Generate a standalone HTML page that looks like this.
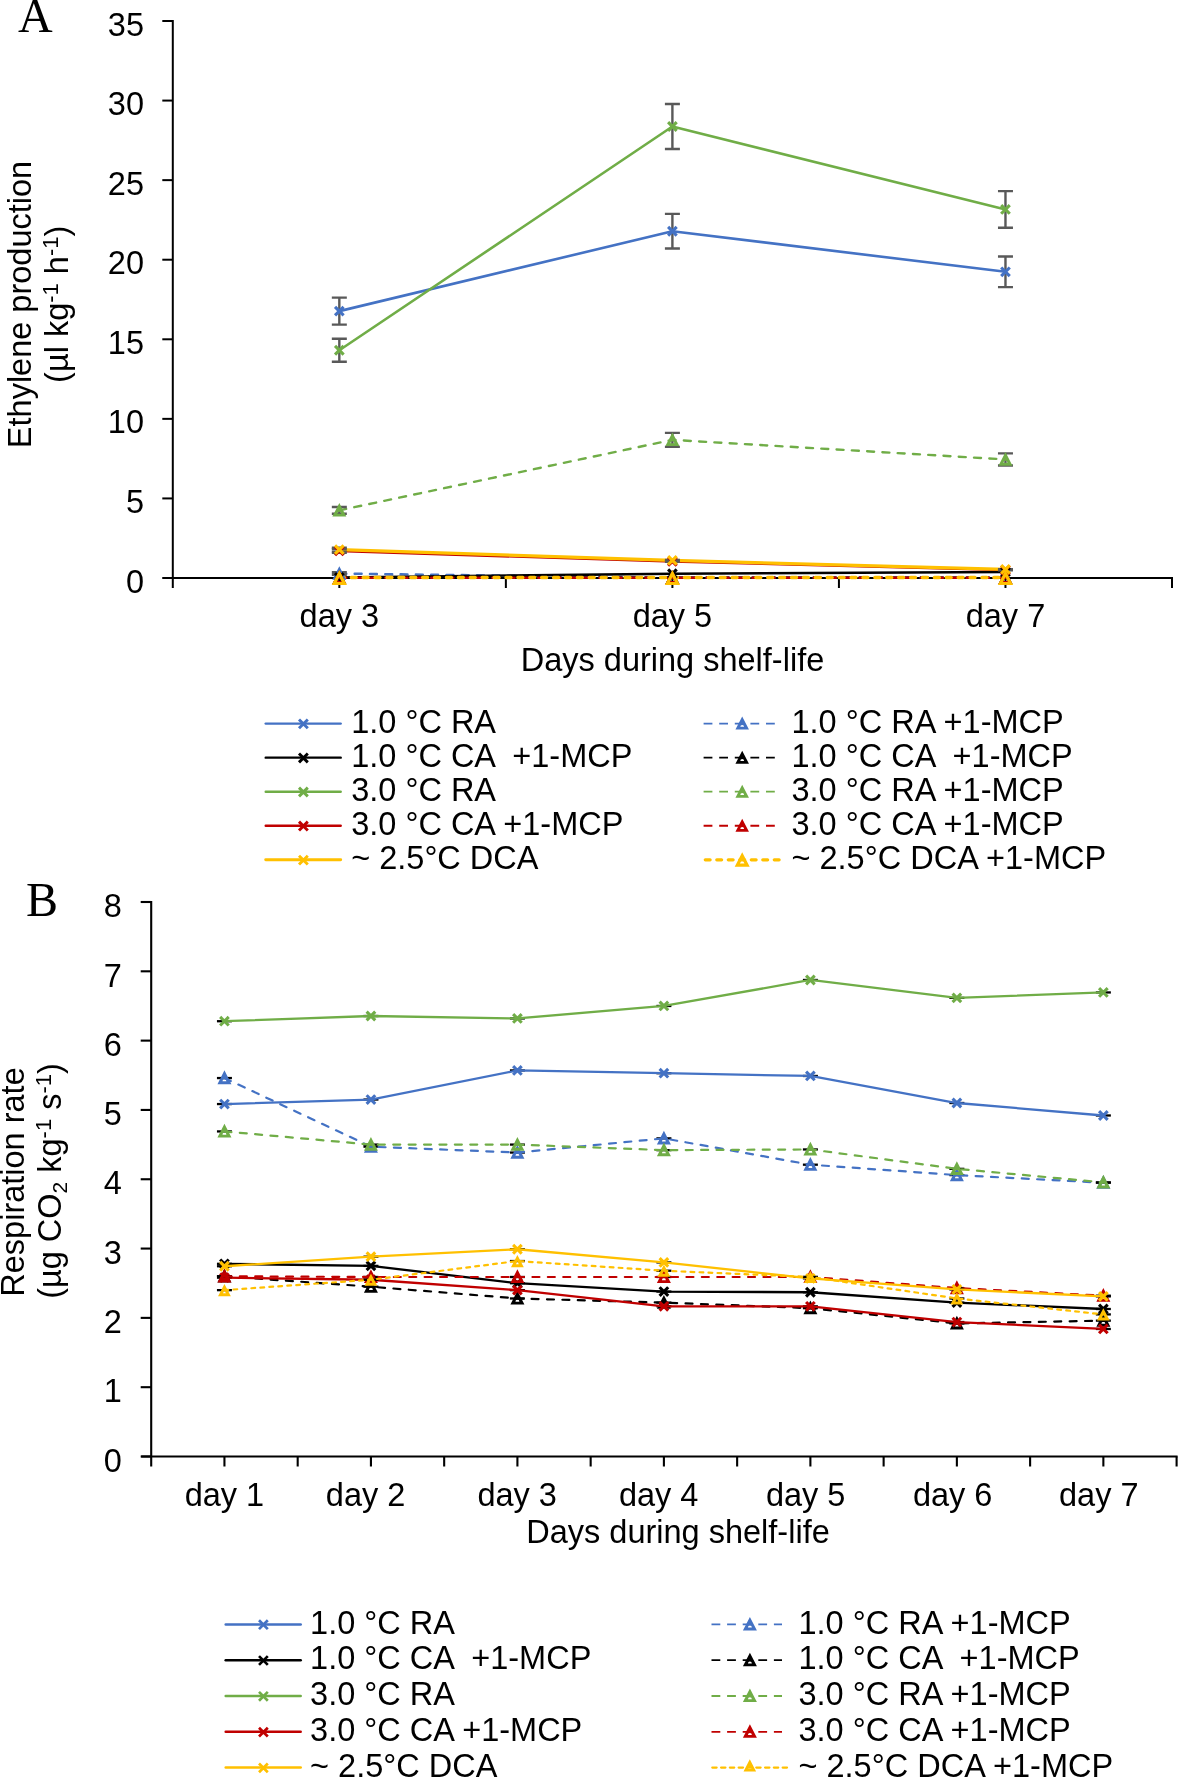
<!DOCTYPE html>
<html><head><meta charset="utf-8"><title>Ethylene production and respiration rate</title>
<style>html,body{margin:0;padding:0;background:#fff;}svg{display:block;will-change:transform;}</style>
</head><body>
<svg width="1179" height="1777" viewBox="0 0 1179 1777">
<rect width="1179" height="1777" fill="#fff"/>
<text x="18" y="32.2" font-family="Liberation Serif" font-size="48" text-anchor="start" >A</text>
<g stroke="#000" stroke-width="2" fill="none" stroke-linecap="butt">
<path d="M172.8 20L172.8 588"/>
<path d="M162.8 578L1173 578"/>
<path d="M162.3 578L172.8 578"/>
<path d="M162.3 498.43L172.8 498.43"/>
<path d="M162.3 418.86L172.8 418.86"/>
<path d="M162.3 339.29L172.8 339.29"/>
<path d="M162.3 259.71L172.8 259.71"/>
<path d="M162.3 180.14L172.8 180.14"/>
<path d="M162.3 100.57L172.8 100.57"/>
<path d="M162.3 21L172.8 21"/>
<path d="M339.33 578L339.33 588"/>
<path d="M505.87 578L505.87 588"/>
<path d="M672.4 578L672.4 588"/>
<path d="M838.93 578L838.93 588"/>
<path d="M1005.47 578L1005.47 588"/>
<path d="M1172 578L1172 588"/>
</g>
<text x="144" y="592.6" font-family="Liberation Sans" font-size="32.5" text-anchor="end" >0</text>
<text x="144" y="513.03" font-family="Liberation Sans" font-size="32.5" text-anchor="end" >5</text>
<text x="144" y="433.46" font-family="Liberation Sans" font-size="32.5" text-anchor="end" >10</text>
<text x="144" y="353.89" font-family="Liberation Sans" font-size="32.5" text-anchor="end" >15</text>
<text x="144" y="274.31" font-family="Liberation Sans" font-size="32.5" text-anchor="end" >20</text>
<text x="144" y="194.74" font-family="Liberation Sans" font-size="32.5" text-anchor="end" >25</text>
<text x="144" y="115.17" font-family="Liberation Sans" font-size="32.5" text-anchor="end" >30</text>
<text x="144" y="35.6" font-family="Liberation Sans" font-size="32.5" text-anchor="end" >35</text>
<text x="339.33" y="626.9" font-family="Liberation Sans" font-size="32.5" text-anchor="middle" >day 3</text>
<text x="672.4" y="626.9" font-family="Liberation Sans" font-size="32.5" text-anchor="middle" >day 5</text>
<text x="1005.47" y="626.9" font-family="Liberation Sans" font-size="32.5" text-anchor="middle" >day 7</text>
<text x="672.5" y="671" font-family="Liberation Sans" font-size="32.5" text-anchor="middle" >Days during shelf-life</text>
<g transform="translate(30.5 304.5) rotate(-90)"><text x="0" y="0" font-family="Liberation Sans" font-size="32.5" text-anchor="middle" >Ethylene production</text></g>
<g transform="translate(68 304.3) rotate(-90)"><text x="0" y="0" font-family="Liberation Sans" font-size="32.5" text-anchor="middle">(µl kg<tspan font-size="22" dy="-10.5">-1</tspan><tspan dy="10.5"> h</tspan><tspan font-size="22" dy="-10.5">-1</tspan><tspan dy="10.5">)</tspan></text></g>
<path d="M339.33 311.12 L672.4 231.23 L1005.47 271.81" stroke="#4472C4" stroke-width="2.6" fill="none" stroke-linejoin="round" stroke-linecap="round"/>
<path d="M339.33 573.54 L672.4 577.68 L1005.47 577.68" stroke="#4472C4" stroke-width="2.4" fill="none" stroke-linejoin="round" stroke-linecap="round" stroke-dasharray="7 8.3"/>
<path d="M339.33 577.52 L672.4 573.7 L1005.47 571.95" stroke="#000000" stroke-width="2.6" fill="none" stroke-linejoin="round" stroke-linecap="round"/>
<path d="M339.33 577.68 L672.4 577.68 L1005.47 577.68" stroke="#000000" stroke-width="2.4" fill="none" stroke-linejoin="round" stroke-linecap="round" stroke-dasharray="7 8.3"/>
<path d="M339.33 350.27 L672.4 126.51 L1005.47 209.43" stroke="#70AD47" stroke-width="2.6" fill="none" stroke-linejoin="round" stroke-linecap="round"/>
<path d="M339.33 510.36 L672.4 439.86 L1005.47 459.44" stroke="#70AD47" stroke-width="2.4" fill="none" stroke-linejoin="round" stroke-linecap="round" stroke-dasharray="7 8.3"/>
<path d="M339.33 550.95 L672.4 561.45 L1005.47 570.04" stroke="#C00000" stroke-width="2.6" fill="none" stroke-linejoin="round" stroke-linecap="round"/>
<path d="M339.33 577.68 L672.4 577.68 L1005.47 577.68" stroke="#C00000" stroke-width="2.4" fill="none" stroke-linejoin="round" stroke-linecap="round" stroke-dasharray="7 8.3"/>
<path d="M339.33 549.67 L672.4 560.34 L1005.47 569.41" stroke="#FFC000" stroke-width="3.3" fill="none" stroke-linejoin="round" stroke-linecap="round"/>
<path d="M339.33 577.52 L672.4 577.52 L1005.47 577.52" stroke="#FFC000" stroke-width="3.3" fill="none" stroke-linejoin="round" stroke-linecap="round" stroke-dasharray="5 6.9"/>
<path d="M339.33 297.59L339.33 324.64M331.83 297.59L346.83 297.59M331.83 324.64L346.83 324.64" stroke="#595959" stroke-width="2.4" fill="none"/>
<path d="M672.4 213.88L672.4 248.57M664.9 213.88L679.9 213.88M664.9 248.57L679.9 248.57" stroke="#595959" stroke-width="2.4" fill="none"/>
<path d="M1005.47 256.53L1005.47 287.09M997.97 256.53L1012.97 256.53M997.97 287.09L1012.97 287.09" stroke="#595959" stroke-width="2.4" fill="none"/>
<path d="M339.33 572.27L339.33 574.82M331.83 572.27L346.83 572.27M331.83 574.82L346.83 574.82" stroke="#595959" stroke-width="2.4" fill="none"/>
<path d="M339.33 338.81L339.33 361.72M331.83 338.81L346.83 338.81M331.83 361.72L346.83 361.72" stroke="#595959" stroke-width="2.4" fill="none"/>
<path d="M672.4 104.07L672.4 148.95M664.9 104.07L679.9 104.07M664.9 148.95L679.9 148.95" stroke="#595959" stroke-width="2.4" fill="none"/>
<path d="M1005.47 191.12L1005.47 227.73M997.97 191.12L1012.97 191.12M997.97 227.73L1012.97 227.73" stroke="#595959" stroke-width="2.4" fill="none"/>
<path d="M339.33 507.02L339.33 513.71M331.83 507.02L346.83 507.02M331.83 513.71L346.83 513.71" stroke="#595959" stroke-width="2.4" fill="none"/>
<path d="M672.4 432.86L672.4 446.87M664.9 432.86L679.9 432.86M664.9 446.87L679.9 446.87" stroke="#595959" stroke-width="2.4" fill="none"/>
<path d="M1005.47 453.39L1005.47 465.49M997.97 453.39L1012.97 453.39M997.97 465.49L1012.97 465.49" stroke="#595959" stroke-width="2.4" fill="none"/>
<path d="M339.33 549.04L339.33 552.86M331.83 549.04L346.83 549.04M331.83 552.86L346.83 552.86" stroke="#595959" stroke-width="2.4" fill="none"/>
<path d="M672.4 561.13L672.4 561.77M664.9 561.13L679.9 561.13M664.9 561.77L679.9 561.77" stroke="#595959" stroke-width="2.4" fill="none"/>
<path d="M1005.47 569.72L1005.47 570.36M997.97 569.72L1012.97 569.72M997.97 570.36L1012.97 570.36" stroke="#595959" stroke-width="2.4" fill="none"/>
<path d="M339.33 547.76L339.33 551.58M331.83 547.76L346.83 547.76M331.83 551.58L346.83 551.58" stroke="#595959" stroke-width="2.4" fill="none"/>
<path d="M672.4 560.02L672.4 560.65M664.9 560.02L679.9 560.02M664.9 560.65L679.9 560.65" stroke="#595959" stroke-width="2.4" fill="none"/>
<path d="M1005.47 569.09L1005.47 569.72M997.97 569.09L1012.97 569.09M997.97 569.72L1012.97 569.72" stroke="#595959" stroke-width="2.4" fill="none"/>
<path d="M335.03 306.82L343.63 315.42M335.03 315.42L343.63 306.82" stroke="#4472C4" stroke-width="3.1" fill="none"/>
<path d="M668.1 226.93L676.7 235.53M668.1 235.53L676.7 226.93" stroke="#4472C4" stroke-width="3.1" fill="none"/>
<path d="M1001.17 267.51L1009.77 276.11M1001.17 276.11L1009.77 267.51" stroke="#4472C4" stroke-width="3.1" fill="none"/>
<path d="M339.33 566.14L346.33 579.74L332.33 579.74ZM337.37 576.89A1.96 2.04 0 0 1 341.29 576.89Z" fill="#4472C4" fill-rule="evenodd"/>
<path d="M672.4 570.28L679.4 583.88L665.4 583.88ZM670.44 581.03A1.96 2.04 0 0 1 674.36 581.03Z" fill="#4472C4" fill-rule="evenodd"/>
<path d="M1005.47 570.28L1012.47 583.88L998.47 583.88ZM1003.51 581.03A1.96 2.04 0 0 1 1007.43 581.03Z" fill="#4472C4" fill-rule="evenodd"/>
<path d="M335.03 573.22L343.63 581.82M335.03 581.82L343.63 573.22" stroke="#000000" stroke-width="3.1" fill="none"/>
<path d="M668.1 569.4L676.7 578M668.1 578L676.7 569.4" stroke="#000000" stroke-width="3.1" fill="none"/>
<path d="M1001.17 567.65L1009.77 576.25M1001.17 576.25L1009.77 567.65" stroke="#000000" stroke-width="3.1" fill="none"/>
<path d="M339.33 570.28L346.33 583.88L332.33 583.88ZM337.37 581.03A1.96 2.04 0 0 1 341.29 581.03Z" fill="#000000" fill-rule="evenodd"/>
<path d="M672.4 570.28L679.4 583.88L665.4 583.88ZM670.44 581.03A1.96 2.04 0 0 1 674.36 581.03Z" fill="#000000" fill-rule="evenodd"/>
<path d="M1005.47 570.28L1012.47 583.88L998.47 583.88ZM1003.51 581.03A1.96 2.04 0 0 1 1007.43 581.03Z" fill="#000000" fill-rule="evenodd"/>
<path d="M335.03 345.97L343.63 354.57M335.03 354.57L343.63 345.97" stroke="#70AD47" stroke-width="3.1" fill="none"/>
<path d="M668.1 122.21L676.7 130.81M668.1 130.81L676.7 122.21" stroke="#70AD47" stroke-width="3.1" fill="none"/>
<path d="M1001.17 205.13L1009.77 213.73M1001.17 213.73L1009.77 205.13" stroke="#70AD47" stroke-width="3.1" fill="none"/>
<path d="M339.33 502.96L346.33 516.56L332.33 516.56ZM337.37 513.71A1.96 2.04 0 0 1 341.29 513.71Z" fill="#70AD47" fill-rule="evenodd"/>
<path d="M672.4 432.46L679.4 446.06L665.4 446.06ZM670.44 443.21A1.96 2.04 0 0 1 674.36 443.21Z" fill="#70AD47" fill-rule="evenodd"/>
<path d="M1005.47 452.04L1012.47 465.64L998.47 465.64ZM1003.51 462.78A1.96 2.04 0 0 1 1007.43 462.78Z" fill="#70AD47" fill-rule="evenodd"/>
<path d="M335.03 546.65L343.63 555.25M335.03 555.25L343.63 546.65" stroke="#C00000" stroke-width="3.1" fill="none"/>
<path d="M668.1 557.15L676.7 565.75M668.1 565.75L676.7 557.15" stroke="#C00000" stroke-width="3.1" fill="none"/>
<path d="M1001.17 565.74L1009.77 574.34M1001.17 574.34L1009.77 565.74" stroke="#C00000" stroke-width="3.1" fill="none"/>
<path d="M339.33 570.28L346.33 583.88L332.33 583.88ZM337.37 581.03A1.96 2.04 0 0 1 341.29 581.03Z" fill="#C00000" fill-rule="evenodd"/>
<path d="M672.4 570.28L679.4 583.88L665.4 583.88ZM670.44 581.03A1.96 2.04 0 0 1 674.36 581.03Z" fill="#C00000" fill-rule="evenodd"/>
<path d="M1005.47 570.28L1012.47 583.88L998.47 583.88ZM1003.51 581.03A1.96 2.04 0 0 1 1007.43 581.03Z" fill="#C00000" fill-rule="evenodd"/>
<path d="M335.03 545.37L343.63 553.97M335.03 553.97L343.63 545.37" stroke="#FFC000" stroke-width="3.1" fill="none"/>
<path d="M668.1 556.04L676.7 564.64M668.1 564.64L676.7 556.04" stroke="#FFC000" stroke-width="3.1" fill="none"/>
<path d="M1001.17 565.11L1009.77 573.71M1001.17 573.71L1009.77 565.11" stroke="#FFC000" stroke-width="3.1" fill="none"/>
<path d="M339.33 569.92L346.98 585.12L331.68 585.12ZM339.33 577.04L336.88 581.92L341.79 581.92Z" fill="#FFC000" fill-rule="evenodd"/>
<path d="M672.4 569.92L680.05 585.12L664.75 585.12ZM672.4 577.04L669.94 581.92L674.86 581.92Z" fill="#FFC000" fill-rule="evenodd"/>
<path d="M1005.47 569.92L1013.12 585.12L997.82 585.12ZM1005.47 577.04L1003.01 581.92L1007.92 581.92Z" fill="#FFC000" fill-rule="evenodd"/>
<path d="M265.7 723.6 L340.7 723.6" stroke="#4472C4" stroke-width="2.4" fill="none" stroke-linejoin="round" stroke-linecap="round"/>
<path d="M299 719.5L307.8 728.3M299 728.3L307.8 719.5" stroke="#4472C4" stroke-width="2.9" fill="none"/>
<text x="351.2" y="733.1" font-family="Liberation Sans" font-size="32.5" text-anchor="start" xml:space="preserve">1.0 °C RA</text>
<path d="M703.6 723.6L774.8 723.6" stroke="#4472C4" stroke-width="1.8" stroke-dasharray="8.8 6.8" fill="none"/>
<path d="M742.2 716.6L748.95 729.6L735.45 729.6ZM740.31 726.87A1.89 1.95 0 0 1 744.09 726.87Z" fill="#4472C4" fill-rule="evenodd"/>
<text x="791.5" y="733.1" font-family="Liberation Sans" font-size="32.5" text-anchor="start" xml:space="preserve">1.0 °C RA +1-MCP</text>
<path d="M265.7 757.65 L340.7 757.65" stroke="#000000" stroke-width="2.4" fill="none" stroke-linejoin="round" stroke-linecap="round"/>
<path d="M299 753.55L307.8 762.35M299 762.35L307.8 753.55" stroke="#000000" stroke-width="2.9" fill="none"/>
<text x="351.2" y="767.15" font-family="Liberation Sans" font-size="32.5" text-anchor="start" xml:space="preserve">1.0 °C CA  +1-MCP</text>
<path d="M703.6 757.65L774.8 757.65" stroke="#000000" stroke-width="1.8" stroke-dasharray="8.8 6.8" fill="none"/>
<path d="M742.2 750.65L748.95 763.65L735.45 763.65ZM740.31 760.92A1.89 1.95 0 0 1 744.09 760.92Z" fill="#000000" fill-rule="evenodd"/>
<text x="791.5" y="767.15" font-family="Liberation Sans" font-size="32.5" text-anchor="start" xml:space="preserve">1.0 °C CA  +1-MCP</text>
<path d="M265.7 791.7 L340.7 791.7" stroke="#70AD47" stroke-width="2.4" fill="none" stroke-linejoin="round" stroke-linecap="round"/>
<path d="M299 787.6L307.8 796.4M299 796.4L307.8 787.6" stroke="#70AD47" stroke-width="2.9" fill="none"/>
<text x="351.2" y="801.2" font-family="Liberation Sans" font-size="32.5" text-anchor="start" xml:space="preserve">3.0 °C RA</text>
<path d="M703.6 791.7L774.8 791.7" stroke="#70AD47" stroke-width="1.8" stroke-dasharray="8.8 6.8" fill="none"/>
<path d="M742.2 784.7L748.95 797.7L735.45 797.7ZM740.31 794.97A1.89 1.95 0 0 1 744.09 794.97Z" fill="#70AD47" fill-rule="evenodd"/>
<text x="791.5" y="801.2" font-family="Liberation Sans" font-size="32.5" text-anchor="start" xml:space="preserve">3.0 °C RA +1-MCP</text>
<path d="M265.7 825.75 L340.7 825.75" stroke="#C00000" stroke-width="2.4" fill="none" stroke-linejoin="round" stroke-linecap="round"/>
<path d="M299 821.65L307.8 830.45M299 830.45L307.8 821.65" stroke="#C00000" stroke-width="2.9" fill="none"/>
<text x="351.2" y="835.25" font-family="Liberation Sans" font-size="32.5" text-anchor="start" xml:space="preserve">3.0 °C CA +1-MCP</text>
<path d="M703.6 825.75L774.8 825.75" stroke="#C00000" stroke-width="1.8" stroke-dasharray="8.8 6.8" fill="none"/>
<path d="M742.2 818.75L748.95 831.75L735.45 831.75ZM740.31 829.02A1.89 1.95 0 0 1 744.09 829.02Z" fill="#C00000" fill-rule="evenodd"/>
<text x="791.5" y="835.25" font-family="Liberation Sans" font-size="32.5" text-anchor="start" xml:space="preserve">3.0 °C CA +1-MCP</text>
<path d="M265.7 859.8 L340.7 859.8" stroke="#FFC000" stroke-width="2.9" fill="none" stroke-linejoin="round" stroke-linecap="round"/>
<path d="M299 855.7L307.8 864.5M299 864.5L307.8 855.7" stroke="#FFC000" stroke-width="2.9" fill="none"/>
<text x="351.2" y="869.3" font-family="Liberation Sans" font-size="32.5" text-anchor="start" xml:space="preserve">~ 2.5°C DCA</text>
<path d="M705.3 859.8L781 859.8" stroke="#FFC000" stroke-width="3.3" stroke-linecap="round" stroke-dasharray="4.8 6.7" fill="none"/>
<path d="M742.2 852.25L749.7 866.75L734.7 866.75ZM742.2 859.22L739.96 863.55L744.44 863.55Z" fill="#FFC000" fill-rule="evenodd"/>
<text x="791.5" y="869.3" font-family="Liberation Sans" font-size="32.5" text-anchor="start" xml:space="preserve">~ 2.5°C DCA +1-MCP</text>
<text x="26" y="915.9" font-family="Liberation Serif" font-size="48" text-anchor="start" >B</text>
<g stroke="#000" stroke-width="2.1" fill="none" stroke-linecap="butt">
<path d="M151.2 901L151.2 1466.5"/>
<path d="M141.2 1456.5L1177.6 1456.5"/>
<path d="M140.7 1456.5L151.2 1456.5"/>
<path d="M140.7 1387.19L151.2 1387.19"/>
<path d="M140.7 1317.88L151.2 1317.88"/>
<path d="M140.7 1248.56L151.2 1248.56"/>
<path d="M140.7 1179.25L151.2 1179.25"/>
<path d="M140.7 1109.94L151.2 1109.94"/>
<path d="M140.7 1040.62L151.2 1040.62"/>
<path d="M140.7 971.31L151.2 971.31"/>
<path d="M140.7 902L151.2 902"/>
<path d="M224.44 1456.5L224.44 1466.5"/>
<path d="M297.69 1456.5L297.69 1466.5"/>
<path d="M370.93 1456.5L370.93 1466.5"/>
<path d="M444.17 1456.5L444.17 1466.5"/>
<path d="M517.41 1456.5L517.41 1466.5"/>
<path d="M590.66 1456.5L590.66 1466.5"/>
<path d="M663.9 1456.5L663.9 1466.5"/>
<path d="M737.14 1456.5L737.14 1466.5"/>
<path d="M810.39 1456.5L810.39 1466.5"/>
<path d="M883.63 1456.5L883.63 1466.5"/>
<path d="M956.87 1456.5L956.87 1466.5"/>
<path d="M1030.11 1456.5L1030.11 1466.5"/>
<path d="M1103.36 1456.5L1103.36 1466.5"/>
<path d="M1176.6 1456.5L1176.6 1466.5"/>
</g>
<text x="121.8" y="1471.7" font-family="Liberation Sans" font-size="32.5" text-anchor="end" >0</text>
<text x="121.8" y="1402.39" font-family="Liberation Sans" font-size="32.5" text-anchor="end" >1</text>
<text x="121.8" y="1333.08" font-family="Liberation Sans" font-size="32.5" text-anchor="end" >2</text>
<text x="121.8" y="1263.76" font-family="Liberation Sans" font-size="32.5" text-anchor="end" >3</text>
<text x="121.8" y="1194.45" font-family="Liberation Sans" font-size="32.5" text-anchor="end" >4</text>
<text x="121.8" y="1125.14" font-family="Liberation Sans" font-size="32.5" text-anchor="end" >5</text>
<text x="121.8" y="1055.83" font-family="Liberation Sans" font-size="32.5" text-anchor="end" >6</text>
<text x="121.8" y="986.51" font-family="Liberation Sans" font-size="32.5" text-anchor="end" >7</text>
<text x="121.8" y="917.2" font-family="Liberation Sans" font-size="32.5" text-anchor="end" >8</text>
<text x="224.44" y="1506" font-family="Liberation Sans" font-size="32.5" text-anchor="middle" >day 1</text>
<text x="365.63" y="1506" font-family="Liberation Sans" font-size="32.5" text-anchor="middle" >day 2</text>
<text x="517.21" y="1506" font-family="Liberation Sans" font-size="32.5" text-anchor="middle" >day 3</text>
<text x="658.7" y="1506" font-family="Liberation Sans" font-size="32.5" text-anchor="middle" >day 4</text>
<text x="805.69" y="1506" font-family="Liberation Sans" font-size="32.5" text-anchor="middle" >day 5</text>
<text x="952.67" y="1506" font-family="Liberation Sans" font-size="32.5" text-anchor="middle" >day 6</text>
<text x="1098.76" y="1506" font-family="Liberation Sans" font-size="32.5" text-anchor="middle" >day 7</text>
<text x="678" y="1542.7" font-family="Liberation Sans" font-size="32.5" text-anchor="middle" >Days during shelf-life</text>
<g transform="translate(23.6 1182) rotate(-90)"><text x="0" y="0" font-family="Liberation Sans" font-size="32.5" text-anchor="middle" >Respiration rate</text></g>
<g transform="translate(61 1181) rotate(-90)"><text x="0" y="0" font-family="Liberation Sans" font-size="32.5" text-anchor="middle">(µg CO<tspan font-size="21" dy="6">2</tspan><tspan dy="-6"> kg</tspan><tspan font-size="22" dy="-10.5">-1</tspan><tspan dy="10.5"> s</tspan><tspan font-size="22" dy="-10.5">-1</tspan><tspan dy="10.5">)</tspan></text></g>
<path d="M216.94 1104.05L231.94 1104.05" stroke="#000" stroke-width="2.3"/>
<path d="M363.43 1099.54L378.43 1099.54" stroke="#000" stroke-width="2.3"/>
<path d="M509.91 1070.43L524.91 1070.43" stroke="#000" stroke-width="2.3"/>
<path d="M656.4 1073.2L671.4 1073.2" stroke="#000" stroke-width="2.3"/>
<path d="M802.89 1075.97L817.89 1075.97" stroke="#000" stroke-width="2.3"/>
<path d="M949.37 1103.01L964.37 1103.01" stroke="#000" stroke-width="2.3"/>
<path d="M1095.86 1115.48L1110.86 1115.48" stroke="#000" stroke-width="2.3"/>
<path d="M224.44 1104.05 L370.93 1099.54 L517.41 1070.43 L663.9 1073.2 L810.39 1075.97 L956.87 1103.01 L1103.36 1115.48" stroke="#4472C4" stroke-width="2.3" fill="none" stroke-linejoin="round" stroke-linecap="round"/>
<path d="M220.14 1099.75L228.74 1108.35M220.14 1108.35L228.74 1099.75" stroke="#4472C4" stroke-width="3.1" fill="none"/>
<path d="M366.63 1095.24L375.23 1103.84M366.63 1103.84L375.23 1095.24" stroke="#4472C4" stroke-width="3.1" fill="none"/>
<path d="M513.11 1066.13L521.71 1074.73M513.11 1074.73L521.71 1066.13" stroke="#4472C4" stroke-width="3.1" fill="none"/>
<path d="M659.6 1068.9L668.2 1077.5M659.6 1077.5L668.2 1068.9" stroke="#4472C4" stroke-width="3.1" fill="none"/>
<path d="M806.09 1071.67L814.69 1080.27M806.09 1080.27L814.69 1071.67" stroke="#4472C4" stroke-width="3.1" fill="none"/>
<path d="M952.57 1098.71L961.17 1107.31M952.57 1107.31L961.17 1098.71" stroke="#4472C4" stroke-width="3.1" fill="none"/>
<path d="M1099.06 1111.18L1107.66 1119.78M1099.06 1119.78L1107.66 1111.18" stroke="#4472C4" stroke-width="3.1" fill="none"/>
<path d="M216.94 1078.05L231.94 1078.05" stroke="#000" stroke-width="2.3"/>
<path d="M363.43 1146.67L378.43 1146.67" stroke="#000" stroke-width="2.3"/>
<path d="M509.91 1152.56L524.91 1152.56" stroke="#000" stroke-width="2.3"/>
<path d="M656.4 1138.36L671.4 1138.36" stroke="#000" stroke-width="2.3"/>
<path d="M802.89 1164.69L817.89 1164.69" stroke="#000" stroke-width="2.3"/>
<path d="M949.37 1175.09L964.37 1175.09" stroke="#000" stroke-width="2.3"/>
<path d="M1095.86 1182.72L1110.86 1182.72" stroke="#000" stroke-width="2.3"/>
<path d="M224.44 1078.05 L370.93 1146.67 L517.41 1152.56 L663.9 1138.36 L810.39 1164.69 L956.87 1175.09 L1103.36 1182.72" stroke="#4472C4" stroke-width="2.2" fill="none" stroke-linejoin="round" stroke-linecap="round" stroke-dasharray="7 8.4"/>
<path d="M224.44 1070.35L231.44 1084.15L217.44 1084.15ZM222.48 1081.26A1.96 2.07 0 0 1 226.4 1081.26Z" fill="#4472C4" fill-rule="evenodd"/>
<path d="M370.93 1138.97L377.93 1152.77L363.93 1152.77ZM368.97 1149.88A1.96 2.07 0 0 1 372.89 1149.88Z" fill="#4472C4" fill-rule="evenodd"/>
<path d="M517.41 1144.86L524.41 1158.66L510.41 1158.66ZM515.45 1155.77A1.96 2.07 0 0 1 519.37 1155.77Z" fill="#4472C4" fill-rule="evenodd"/>
<path d="M663.9 1130.66L670.9 1144.46L656.9 1144.46ZM661.94 1141.56A1.96 2.07 0 0 1 665.86 1141.56Z" fill="#4472C4" fill-rule="evenodd"/>
<path d="M810.39 1156.99L817.39 1170.79L803.39 1170.79ZM808.43 1167.9A1.96 2.07 0 0 1 812.35 1167.9Z" fill="#4472C4" fill-rule="evenodd"/>
<path d="M956.87 1167.39L963.87 1181.19L949.87 1181.19ZM954.91 1178.29A1.96 2.07 0 0 1 958.83 1178.29Z" fill="#4472C4" fill-rule="evenodd"/>
<path d="M1103.36 1175.02L1110.36 1188.82L1096.36 1188.82ZM1101.4 1185.92A1.96 2.07 0 0 1 1105.32 1185.92Z" fill="#4472C4" fill-rule="evenodd"/>
<path d="M216.94 1263.81L231.94 1263.81" stroke="#000" stroke-width="2.3"/>
<path d="M363.43 1265.89L378.43 1265.89" stroke="#000" stroke-width="2.3"/>
<path d="M509.91 1283.22L524.91 1283.22" stroke="#000" stroke-width="2.3"/>
<path d="M656.4 1291.54L671.4 1291.54" stroke="#000" stroke-width="2.3"/>
<path d="M802.89 1292.23L817.89 1292.23" stroke="#000" stroke-width="2.3"/>
<path d="M949.37 1302.63L964.37 1302.63" stroke="#000" stroke-width="2.3"/>
<path d="M1095.86 1309L1110.86 1309" stroke="#000" stroke-width="2.3"/>
<path d="M224.44 1263.81 L370.93 1265.89 L517.41 1283.22 L663.9 1291.54 L810.39 1292.23 L956.87 1302.63 L1103.36 1309" stroke="#000000" stroke-width="2.3" fill="none" stroke-linejoin="round" stroke-linecap="round"/>
<path d="M220.14 1259.51L228.74 1268.11M220.14 1268.11L228.74 1259.51" stroke="#000000" stroke-width="3.1" fill="none"/>
<path d="M366.63 1261.59L375.23 1270.19M366.63 1270.19L375.23 1261.59" stroke="#000000" stroke-width="3.1" fill="none"/>
<path d="M513.11 1278.92L521.71 1287.52M513.11 1287.52L521.71 1278.92" stroke="#000000" stroke-width="3.1" fill="none"/>
<path d="M659.6 1287.24L668.2 1295.84M659.6 1295.84L668.2 1287.24" stroke="#000000" stroke-width="3.1" fill="none"/>
<path d="M806.09 1287.93L814.69 1296.53M806.09 1296.53L814.69 1287.93" stroke="#000000" stroke-width="3.1" fill="none"/>
<path d="M952.57 1298.33L961.17 1306.93M952.57 1306.93L961.17 1298.33" stroke="#000000" stroke-width="3.1" fill="none"/>
<path d="M1099.06 1304.7L1107.66 1313.3M1099.06 1313.3L1107.66 1304.7" stroke="#000000" stroke-width="3.1" fill="none"/>
<path d="M216.94 1276.29L231.94 1276.29" stroke="#000" stroke-width="2.3"/>
<path d="M363.43 1286.68L378.43 1286.68" stroke="#000" stroke-width="2.3"/>
<path d="M509.91 1298.47L524.91 1298.47" stroke="#000" stroke-width="2.3"/>
<path d="M656.4 1302.63L671.4 1302.63" stroke="#000" stroke-width="2.3"/>
<path d="M802.89 1308.17L817.89 1308.17" stroke="#000" stroke-width="2.3"/>
<path d="M949.37 1323.42L964.37 1323.42" stroke="#000" stroke-width="2.3"/>
<path d="M1095.86 1320.65L1110.86 1320.65" stroke="#000" stroke-width="2.3"/>
<path d="M224.44 1276.29 L370.93 1286.68 L517.41 1298.47 L663.9 1302.63 L810.39 1308.17 L956.87 1323.42 L1103.36 1320.65" stroke="#000000" stroke-width="2.2" fill="none" stroke-linejoin="round" stroke-linecap="round" stroke-dasharray="7 8.4"/>
<path d="M224.44 1268.59L231.44 1282.39L217.44 1282.39ZM222.48 1279.49A1.96 2.07 0 0 1 226.4 1279.49Z" fill="#000000" fill-rule="evenodd"/>
<path d="M370.93 1278.98L377.93 1292.78L363.93 1292.78ZM368.97 1289.89A1.96 2.07 0 0 1 372.89 1289.89Z" fill="#000000" fill-rule="evenodd"/>
<path d="M517.41 1290.77L524.41 1304.57L510.41 1304.57ZM515.45 1301.67A1.96 2.07 0 0 1 519.37 1301.67Z" fill="#000000" fill-rule="evenodd"/>
<path d="M663.9 1294.93L670.9 1308.73L656.9 1308.73ZM661.94 1305.83A1.96 2.07 0 0 1 665.86 1305.83Z" fill="#000000" fill-rule="evenodd"/>
<path d="M810.39 1300.47L817.39 1314.27L803.39 1314.27ZM808.43 1311.37A1.96 2.07 0 0 1 812.35 1311.37Z" fill="#000000" fill-rule="evenodd"/>
<path d="M956.87 1315.72L963.87 1329.52L949.87 1329.52ZM954.91 1326.62A1.96 2.07 0 0 1 958.83 1326.62Z" fill="#000000" fill-rule="evenodd"/>
<path d="M1103.36 1312.95L1110.36 1326.75L1096.36 1326.75ZM1101.4 1323.85A1.96 2.07 0 0 1 1105.32 1323.85Z" fill="#000000" fill-rule="evenodd"/>
<path d="M216.94 1021.22L231.94 1021.22" stroke="#000" stroke-width="2.3"/>
<path d="M363.43 1016.02L378.43 1016.02" stroke="#000" stroke-width="2.3"/>
<path d="M509.91 1018.44L524.91 1018.44" stroke="#000" stroke-width="2.3"/>
<path d="M656.4 1005.97L671.4 1005.97" stroke="#000" stroke-width="2.3"/>
<path d="M802.89 979.98L817.89 979.98" stroke="#000" stroke-width="2.3"/>
<path d="M949.37 997.86L964.37 997.86" stroke="#000" stroke-width="2.3"/>
<path d="M1095.86 992.45L1110.86 992.45" stroke="#000" stroke-width="2.3"/>
<path d="M224.44 1021.22 L370.93 1016.02 L517.41 1018.44 L663.9 1005.97 L810.39 979.98 L956.87 997.86 L1103.36 992.45" stroke="#70AD47" stroke-width="2.3" fill="none" stroke-linejoin="round" stroke-linecap="round"/>
<path d="M220.14 1016.92L228.74 1025.52M220.14 1025.52L228.74 1016.92" stroke="#70AD47" stroke-width="3.1" fill="none"/>
<path d="M366.63 1011.72L375.23 1020.32M366.63 1020.32L375.23 1011.72" stroke="#70AD47" stroke-width="3.1" fill="none"/>
<path d="M513.11 1014.14L521.71 1022.74M513.11 1022.74L521.71 1014.14" stroke="#70AD47" stroke-width="3.1" fill="none"/>
<path d="M659.6 1001.67L668.2 1010.27M659.6 1010.27L668.2 1001.67" stroke="#70AD47" stroke-width="3.1" fill="none"/>
<path d="M806.09 975.68L814.69 984.28M806.09 984.28L814.69 975.68" stroke="#70AD47" stroke-width="3.1" fill="none"/>
<path d="M952.57 993.56L961.17 1002.16M952.57 1002.16L961.17 993.56" stroke="#70AD47" stroke-width="3.1" fill="none"/>
<path d="M1099.06 988.15L1107.66 996.75M1099.06 996.75L1107.66 988.15" stroke="#70AD47" stroke-width="3.1" fill="none"/>
<path d="M216.94 1131.42L231.94 1131.42" stroke="#000" stroke-width="2.3"/>
<path d="M363.43 1144.59L378.43 1144.59" stroke="#000" stroke-width="2.3"/>
<path d="M509.91 1144.59L524.91 1144.59" stroke="#000" stroke-width="2.3"/>
<path d="M656.4 1150.14L671.4 1150.14" stroke="#000" stroke-width="2.3"/>
<path d="M802.89 1149.45L817.89 1149.45" stroke="#000" stroke-width="2.3"/>
<path d="M949.37 1168.85L964.37 1168.85" stroke="#000" stroke-width="2.3"/>
<path d="M1095.86 1182.37L1110.86 1182.37" stroke="#000" stroke-width="2.3"/>
<path d="M224.44 1131.42 L370.93 1144.59 L517.41 1144.59 L663.9 1150.14 L810.39 1149.45 L956.87 1168.85 L1103.36 1182.37" stroke="#70AD47" stroke-width="2.2" fill="none" stroke-linejoin="round" stroke-linecap="round" stroke-dasharray="7 8.4"/>
<path d="M224.44 1123.72L231.44 1137.52L217.44 1137.52ZM222.48 1134.63A1.96 2.07 0 0 1 226.4 1134.63Z" fill="#70AD47" fill-rule="evenodd"/>
<path d="M370.93 1136.89L377.93 1150.69L363.93 1150.69ZM368.97 1147.8A1.96 2.07 0 0 1 372.89 1147.8Z" fill="#70AD47" fill-rule="evenodd"/>
<path d="M517.41 1136.89L524.41 1150.69L510.41 1150.69ZM515.45 1147.8A1.96 2.07 0 0 1 519.37 1147.8Z" fill="#70AD47" fill-rule="evenodd"/>
<path d="M663.9 1142.44L670.9 1156.24L656.9 1156.24ZM661.94 1153.34A1.96 2.07 0 0 1 665.86 1153.34Z" fill="#70AD47" fill-rule="evenodd"/>
<path d="M810.39 1141.75L817.39 1155.55L803.39 1155.55ZM808.43 1152.65A1.96 2.07 0 0 1 812.35 1152.65Z" fill="#70AD47" fill-rule="evenodd"/>
<path d="M956.87 1161.15L963.87 1174.95L949.87 1174.95ZM954.91 1172.06A1.96 2.07 0 0 1 958.83 1172.06Z" fill="#70AD47" fill-rule="evenodd"/>
<path d="M1103.36 1174.67L1110.36 1188.47L1096.36 1188.47ZM1101.4 1185.57A1.96 2.07 0 0 1 1105.32 1185.57Z" fill="#70AD47" fill-rule="evenodd"/>
<path d="M216.94 1277.67L231.94 1277.67" stroke="#000" stroke-width="2.3"/>
<path d="M363.43 1279.75L378.43 1279.75" stroke="#000" stroke-width="2.3"/>
<path d="M509.91 1290.15L524.91 1290.15" stroke="#000" stroke-width="2.3"/>
<path d="M656.4 1306.3L671.4 1306.3" stroke="#000" stroke-width="2.3"/>
<path d="M802.89 1306.3L817.89 1306.3" stroke="#000" stroke-width="2.3"/>
<path d="M949.37 1322.03L964.37 1322.03" stroke="#000" stroke-width="2.3"/>
<path d="M1095.86 1328.96L1110.86 1328.96" stroke="#000" stroke-width="2.3"/>
<path d="M224.44 1277.67 L370.93 1279.75 L517.41 1290.15 L663.9 1306.3 L810.39 1306.3 L956.87 1322.03 L1103.36 1328.96" stroke="#C00000" stroke-width="2.3" fill="none" stroke-linejoin="round" stroke-linecap="round"/>
<path d="M220.14 1273.37L228.74 1281.97M220.14 1281.97L228.74 1273.37" stroke="#C00000" stroke-width="3.1" fill="none"/>
<path d="M366.63 1275.45L375.23 1284.05M366.63 1284.05L375.23 1275.45" stroke="#C00000" stroke-width="3.1" fill="none"/>
<path d="M513.11 1285.85L521.71 1294.45M513.11 1294.45L521.71 1285.85" stroke="#C00000" stroke-width="3.1" fill="none"/>
<path d="M659.6 1302L668.2 1310.6M659.6 1310.6L668.2 1302" stroke="#C00000" stroke-width="3.1" fill="none"/>
<path d="M806.09 1302L814.69 1310.6M806.09 1310.6L814.69 1302" stroke="#C00000" stroke-width="3.1" fill="none"/>
<path d="M952.57 1317.73L961.17 1326.33M952.57 1326.33L961.17 1317.73" stroke="#C00000" stroke-width="3.1" fill="none"/>
<path d="M1099.06 1324.66L1107.66 1333.26M1099.06 1333.26L1107.66 1324.66" stroke="#C00000" stroke-width="3.1" fill="none"/>
<path d="M216.94 1276.29L231.94 1276.29" stroke="#000" stroke-width="2.3"/>
<path d="M363.43 1276.98L378.43 1276.98" stroke="#000" stroke-width="2.3"/>
<path d="M509.91 1276.98L524.91 1276.98" stroke="#000" stroke-width="2.3"/>
<path d="M656.4 1276.98L671.4 1276.98" stroke="#000" stroke-width="2.3"/>
<path d="M802.89 1276.98L817.89 1276.98" stroke="#000" stroke-width="2.3"/>
<path d="M949.37 1288.07L964.37 1288.07" stroke="#000" stroke-width="2.3"/>
<path d="M1095.86 1295.69L1110.86 1295.69" stroke="#000" stroke-width="2.3"/>
<path d="M224.44 1276.29 L370.93 1276.98 L517.41 1276.98 L663.9 1276.98 L810.39 1276.98 L956.87 1288.07 L1103.36 1295.69" stroke="#C00000" stroke-width="2.2" fill="none" stroke-linejoin="round" stroke-linecap="round" stroke-dasharray="7 8.4"/>
<path d="M224.44 1268.59L231.44 1282.39L217.44 1282.39ZM222.48 1279.49A1.96 2.07 0 0 1 226.4 1279.49Z" fill="#C00000" fill-rule="evenodd"/>
<path d="M370.93 1269.28L377.93 1283.08L363.93 1283.08ZM368.97 1280.18A1.96 2.07 0 0 1 372.89 1280.18Z" fill="#C00000" fill-rule="evenodd"/>
<path d="M517.41 1269.28L524.41 1283.08L510.41 1283.08ZM515.45 1280.18A1.96 2.07 0 0 1 519.37 1280.18Z" fill="#C00000" fill-rule="evenodd"/>
<path d="M663.9 1269.28L670.9 1283.08L656.9 1283.08ZM661.94 1280.18A1.96 2.07 0 0 1 665.86 1280.18Z" fill="#C00000" fill-rule="evenodd"/>
<path d="M810.39 1269.28L817.39 1283.08L803.39 1283.08ZM808.43 1280.18A1.96 2.07 0 0 1 812.35 1280.18Z" fill="#C00000" fill-rule="evenodd"/>
<path d="M956.87 1280.37L963.87 1294.17L949.87 1294.17ZM954.91 1291.27A1.96 2.07 0 0 1 958.83 1291.27Z" fill="#C00000" fill-rule="evenodd"/>
<path d="M1103.36 1287.99L1110.36 1301.8L1096.36 1301.8ZM1101.4 1298.9A1.96 2.07 0 0 1 1105.32 1298.9Z" fill="#C00000" fill-rule="evenodd"/>
<path d="M216.94 1266.24L231.94 1266.24" stroke="#000" stroke-width="2.3"/>
<path d="M363.43 1256.67L378.43 1256.67" stroke="#000" stroke-width="2.3"/>
<path d="M509.91 1249.26L524.91 1249.26" stroke="#000" stroke-width="2.3"/>
<path d="M656.4 1262.42L671.4 1262.42" stroke="#000" stroke-width="2.3"/>
<path d="M802.89 1278.37L817.89 1278.37" stroke="#000" stroke-width="2.3"/>
<path d="M949.37 1289.46L964.37 1289.46" stroke="#000" stroke-width="2.3"/>
<path d="M1095.86 1296.39L1110.86 1296.39" stroke="#000" stroke-width="2.3"/>
<path d="M224.44 1266.24 L370.93 1256.67 L517.41 1249.26 L663.9 1262.42 L810.39 1278.37 L956.87 1289.46 L1103.36 1296.39" stroke="#FFC000" stroke-width="2.3" fill="none" stroke-linejoin="round" stroke-linecap="round"/>
<path d="M220.14 1261.94L228.74 1270.54M220.14 1270.54L228.74 1261.94" stroke="#FFC000" stroke-width="3.1" fill="none"/>
<path d="M366.63 1252.37L375.23 1260.97M366.63 1260.97L375.23 1252.37" stroke="#FFC000" stroke-width="3.1" fill="none"/>
<path d="M513.11 1244.96L521.71 1253.56M513.11 1253.56L521.71 1244.96" stroke="#FFC000" stroke-width="3.1" fill="none"/>
<path d="M659.6 1258.12L668.2 1266.72M659.6 1266.72L668.2 1258.12" stroke="#FFC000" stroke-width="3.1" fill="none"/>
<path d="M806.09 1274.07L814.69 1282.67M806.09 1282.67L814.69 1274.07" stroke="#FFC000" stroke-width="3.1" fill="none"/>
<path d="M952.57 1285.16L961.17 1293.76M952.57 1293.76L961.17 1285.16" stroke="#FFC000" stroke-width="3.1" fill="none"/>
<path d="M1099.06 1292.09L1107.66 1300.69M1099.06 1300.69L1107.66 1292.09" stroke="#FFC000" stroke-width="3.1" fill="none"/>
<path d="M216.94 1290.15L231.94 1290.15" stroke="#000" stroke-width="2.3"/>
<path d="M363.43 1279.75L378.43 1279.75" stroke="#000" stroke-width="2.3"/>
<path d="M509.91 1261.04L524.91 1261.04" stroke="#000" stroke-width="2.3"/>
<path d="M656.4 1270.74L671.4 1270.74" stroke="#000" stroke-width="2.3"/>
<path d="M802.89 1276.98L817.89 1276.98" stroke="#000" stroke-width="2.3"/>
<path d="M949.37 1298.47L964.37 1298.47" stroke="#000" stroke-width="2.3"/>
<path d="M1095.86 1314.41L1110.86 1314.41" stroke="#000" stroke-width="2.3"/>
<path d="M224.44 1290.15 L370.93 1279.75 L517.41 1261.04 L663.9 1270.74 L810.39 1276.98 L956.87 1298.47 L1103.36 1314.41" stroke="#FFC000" stroke-width="2.2" fill="none" stroke-linejoin="round" stroke-linecap="round" stroke-dasharray="3.8 5.2"/>
<path d="M224.44 1284.05L230.84 1296.25L218.04 1296.25ZM224.44 1290.51L223 1293.25L225.88 1293.25Z" fill="#FFC000" fill-rule="evenodd"/>
<path d="M370.93 1273.65L377.33 1285.85L364.53 1285.85ZM370.93 1280.11L369.49 1282.85L372.37 1282.85Z" fill="#FFC000" fill-rule="evenodd"/>
<path d="M517.41 1254.94L523.81 1267.14L511.01 1267.14ZM517.41 1261.4L515.98 1264.14L518.85 1264.14Z" fill="#FFC000" fill-rule="evenodd"/>
<path d="M663.9 1264.64L670.3 1276.84L657.5 1276.84ZM663.9 1271.1L662.46 1273.84L665.34 1273.84Z" fill="#FFC000" fill-rule="evenodd"/>
<path d="M810.39 1270.88L816.79 1283.08L803.99 1283.08ZM810.39 1277.34L808.95 1280.08L811.82 1280.08Z" fill="#FFC000" fill-rule="evenodd"/>
<path d="M956.87 1292.37L963.27 1304.57L950.47 1304.57ZM956.87 1298.83L955.43 1301.57L958.31 1301.57Z" fill="#FFC000" fill-rule="evenodd"/>
<path d="M1103.36 1308.31L1109.76 1320.51L1096.96 1320.51ZM1103.36 1314.77L1101.92 1317.51L1104.8 1317.51Z" fill="#FFC000" fill-rule="evenodd"/>
<path d="M225.7 1624.4 L300.7 1624.4" stroke="#4472C4" stroke-width="2.5" fill="none" stroke-linejoin="round" stroke-linecap="round"/>
<path d="M259 1620.3L267.8 1629.1M259 1629.1L267.8 1620.3" stroke="#4472C4" stroke-width="2.7" fill="none"/>
<text x="310.1" y="1633.5" font-family="Liberation Sans" font-size="32.5" text-anchor="start" xml:space="preserve">1.0 °C RA</text>
<path d="M711.5 1624.4L782 1624.4" stroke="#4472C4" stroke-width="1.8" stroke-dasharray="8.8 6.8" fill="none"/>
<path d="M749.9 1616.95L756.9 1630.45L742.9 1630.45ZM747.94 1627.62A1.96 2.02 0 0 1 751.86 1627.62Z" fill="#4472C4" fill-rule="evenodd"/>
<text x="798.5" y="1633.5" font-family="Liberation Sans" font-size="32.5" text-anchor="start" xml:space="preserve">1.0 °C RA +1-MCP</text>
<path d="M225.7 1660.2 L300.7 1660.2" stroke="#000000" stroke-width="2.5" fill="none" stroke-linejoin="round" stroke-linecap="round"/>
<path d="M259 1656.1L267.8 1664.9M259 1664.9L267.8 1656.1" stroke="#000000" stroke-width="2.7" fill="none"/>
<text x="310.1" y="1669.3" font-family="Liberation Sans" font-size="32.5" text-anchor="start" xml:space="preserve">1.0 °C CA  +1-MCP</text>
<path d="M711.5 1660.2L782 1660.2" stroke="#000000" stroke-width="1.8" stroke-dasharray="8.8 6.8" fill="none"/>
<path d="M749.9 1652.75L756.9 1666.25L742.9 1666.25ZM747.94 1663.41A1.96 2.02 0 0 1 751.86 1663.41Z" fill="#000000" fill-rule="evenodd"/>
<text x="798.5" y="1669.3" font-family="Liberation Sans" font-size="32.5" text-anchor="start" xml:space="preserve">1.0 °C CA  +1-MCP</text>
<path d="M225.7 1696 L300.7 1696" stroke="#70AD47" stroke-width="2.5" fill="none" stroke-linejoin="round" stroke-linecap="round"/>
<path d="M259 1691.9L267.8 1700.7M259 1700.7L267.8 1691.9" stroke="#70AD47" stroke-width="2.7" fill="none"/>
<text x="310.1" y="1705.1" font-family="Liberation Sans" font-size="32.5" text-anchor="start" xml:space="preserve">3.0 °C RA</text>
<path d="M711.5 1696L782 1696" stroke="#70AD47" stroke-width="1.8" stroke-dasharray="8.8 6.8" fill="none"/>
<path d="M749.9 1688.55L756.9 1702.05L742.9 1702.05ZM747.94 1699.21A1.96 2.02 0 0 1 751.86 1699.21Z" fill="#70AD47" fill-rule="evenodd"/>
<text x="798.5" y="1705.1" font-family="Liberation Sans" font-size="32.5" text-anchor="start" xml:space="preserve">3.0 °C RA +1-MCP</text>
<path d="M225.7 1731.8 L300.7 1731.8" stroke="#C00000" stroke-width="2.5" fill="none" stroke-linejoin="round" stroke-linecap="round"/>
<path d="M259 1727.7L267.8 1736.5M259 1736.5L267.8 1727.7" stroke="#C00000" stroke-width="2.7" fill="none"/>
<text x="310.1" y="1740.9" font-family="Liberation Sans" font-size="32.5" text-anchor="start" xml:space="preserve">3.0 °C CA +1-MCP</text>
<path d="M711.5 1731.8L782 1731.8" stroke="#C00000" stroke-width="1.8" stroke-dasharray="8.8 6.8" fill="none"/>
<path d="M749.9 1724.35L756.9 1737.85L742.9 1737.85ZM747.94 1735.02A1.96 2.02 0 0 1 751.86 1735.02Z" fill="#C00000" fill-rule="evenodd"/>
<text x="798.5" y="1740.9" font-family="Liberation Sans" font-size="32.5" text-anchor="start" xml:space="preserve">3.0 °C CA +1-MCP</text>
<path d="M225.7 1767.6 L300.7 1767.6" stroke="#FFC000" stroke-width="2.5" fill="none" stroke-linejoin="round" stroke-linecap="round"/>
<path d="M259 1763.5L267.8 1772.3M259 1772.3L267.8 1763.5" stroke="#FFC000" stroke-width="2.7" fill="none"/>
<text x="310.1" y="1776.7" font-family="Liberation Sans" font-size="32.5" text-anchor="start" xml:space="preserve">~ 2.5°C DCA</text>
<path d="M712.3 1767.6L788 1767.6" stroke="#FFC000" stroke-width="2.3" stroke-linecap="round" stroke-dasharray="4.3 4.5" fill="none"/>
<path d="M749.8 1759.3L756.1 1771.5L743.5 1771.5ZM748.04 1768.94A1.76 1.83 0 0 1 751.56 1768.94Z" fill="#FFC000" fill-rule="evenodd"/>
<text x="798.5" y="1776.7" font-family="Liberation Sans" font-size="32.5" text-anchor="start" xml:space="preserve">~ 2.5°C DCA +1-MCP</text>
</svg></body></html>
